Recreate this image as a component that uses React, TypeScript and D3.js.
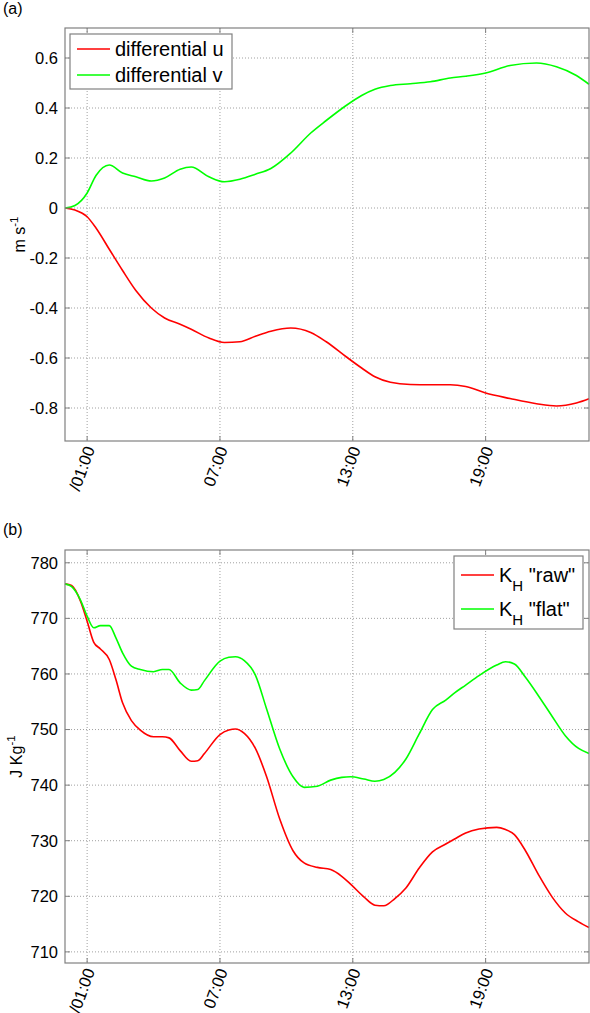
import React, { useEffect, useRef } from 'react';
import * as d3 from 'd3';

// shared time axis (hours since 00:00)
const hourSpan = [0, 23.67];
const hourTicks = [1, 7, 13, 19];
const hourLabels = ['/01:00', '07:00', '13:00', '19:00'];

// panel (a): differential velocities, m s^-1
const hoursA = [0, 0.45, 1, 1.4, 2, 2.6, 3.2, 3.9, 4.5, 5.2, 5.7, 6.5, 7.2, 7.9, 8.6, 9.3, 10.2, 11.1, 11.8, 12.7, 13.4, 14, 14.7, 15.6, 16.5, 17.4, 18.1, 19, 20.1, 21.3, 22.2, 23.1, 23.67];
const diffU = [0, -0.008, -0.035, -0.08, -0.165, -0.25, -0.33, -0.4, -0.44, -0.465, -0.485, -0.52, -0.538, -0.535, -0.513, -0.493, -0.48, -0.498, -0.535, -0.595, -0.64, -0.675, -0.697, -0.706, -0.707, -0.707, -0.714, -0.74, -0.762, -0.783, -0.792, -0.78, -0.763];
const diffV = [0, 0.01, 0.06, 0.13, 0.172, 0.14, 0.125, 0.108, 0.12, 0.155, 0.164, 0.125, 0.105, 0.115, 0.135, 0.158, 0.22, 0.3, 0.35, 0.41, 0.45, 0.475, 0.49, 0.497, 0.505, 0.52, 0.527, 0.54, 0.57, 0.58, 0.565, 0.53, 0.495];
const ticksA = [-0.8, -0.6, -0.4, -0.2, 0, 0.2, 0.4, 0.6];
const ticksALabels = ['-0.8', '-0.6', '-0.4', '-0.2', '0', '0.2', '0.4', '0.6'];
const domainA = [-0.932, 0.72];

// panel (b): K_H, J Kg^-1
const hoursB = [0, 0.3, 0.7, 1, 1.3, 1.6, 2, 2.3, 2.6, 3, 3.4, 4, 4.4, 4.7, 5.2, 5.7, 6, 6.3, 7, 7.4, 7.7, 8.1, 8.6, 9.1, 9.7, 10.3, 10.8, 11.4, 12, 12.5, 12.9, 13.5, 14, 14.4, 14.9, 15.4, 16, 16.6, 17.2, 17.6, 18.1, 18.7, 19.5, 19.9, 20.3, 20.8, 21.4, 22, 22.6, 23.2, 23.67];
const khRaw = [776.2, 775.9, 773.1, 769.5, 765.7, 764.5, 762.6, 759.0, 754.8, 751.6, 749.9, 748.7, 748.7, 748.5, 746.2, 744.3, 744.4, 745.7, 749.1, 749.9, 750.1, 749.3, 746.6, 741.6, 733.9, 728.2, 726.0, 725.2, 724.8, 723.6, 722.2, 719.9, 718.4, 718.3, 719.6, 721.5, 725.1, 728.0, 729.4, 730.3, 731.4, 732.1, 732.4, 732.0, 731.1, 728.2, 723.8, 719.9, 717.0, 715.4, 714.4];
const khFlat = [776.2, 775.7, 773.3, 770.4, 768.3, 768.7, 768.7, 766.5, 763.8, 761.4, 760.8, 760.4, 760.8, 760.8, 758.4, 757.1, 757.2, 758.8, 762.3, 763.0, 763.1, 762.4, 759.8, 753.8, 746.5, 741.5, 739.6, 739.8, 740.9, 741.4, 741.5, 741.1, 740.7, 741.0, 742.3, 744.7, 749.2, 753.6, 755.3, 756.6, 758.0, 759.7, 761.6, 762.2, 761.8, 759.4, 756.0, 752.4, 748.9, 746.6, 745.7];
const ticksB = [710, 720, 730, 740, 750, 760, 770, 780];
const domainB = [708.0, 782.3];

const FONT = "'Liberation Sans', Arial, sans-serif";
const AXIS = '#808080';
const RED = '#ff0000';
const GREEN = '#00ff00';

type Series = { values: number[]; color: string };
type PanelOpts = {
  top: number;
  bottom: number;
  hours: number[];
  series: Series[];
  domain: number[];
  ticks: number[];
  tickLabels: string[];
  tag: string;
  tagY: number;
  unit: string;
  unitX: number;
  legend: { x: number; y: number; w: number; h: number; labels: string[]; sub: boolean };
};

const drawPanel = (root: d3.Selection<SVGSVGElement, unknown, null, undefined>, o: PanelOpts) => {
  const left = 65;
  const right = 589;
  const x = d3.scaleLinear().domain(hourSpan).range([left, right]);
  const y = d3.scaleLinear().domain(o.domain).range([o.bottom, o.top]);
  const g = root.append('g');

  // grid
  g.selectAll('.gx').data(hourTicks).enter().append('line')
    .attr('x1', d => x(d)).attr('x2', d => x(d))
    .attr('y1', o.top).attr('y2', o.bottom)
    .attr('stroke', '#a0a0a0').attr('stroke-dasharray', '1,2');
  g.selectAll('.gy').data(o.ticks).enter().append('line')
    .attr('x1', left).attr('x2', right)
    .attr('y1', d => y(d)).attr('y2', d => y(d))
    .attr('stroke', '#a0a0a0').attr('stroke-dasharray', '1,2');

  // curves
  const line = d3.line<number>()
    .x((_, i) => x(o.hours[i]))
    .y(d => y(d))
    .curve(d3.curveMonotoneX);
  o.series.forEach(s => {
    g.append('path').datum(s.values)
      .attr('fill', 'none').attr('stroke', s.color).attr('stroke-width', 1.6)
      .attr('d', line);
  });

  // box + inner ticks on all sides
  g.append('rect')
    .attr('x', left).attr('y', o.top)
    .attr('width', right - left).attr('height', o.bottom - o.top)
    .attr('fill', 'none').attr('stroke', AXIS).attr('stroke-width', 1.2);
  hourTicks.forEach(t => {
    g.append('line').attr('x1', x(t)).attr('x2', x(t)).attr('y1', o.bottom).attr('y2', o.bottom - 5).attr('stroke', AXIS);
    g.append('line').attr('x1', x(t)).attr('x2', x(t)).attr('y1', o.top).attr('y2', o.top + 5).attr('stroke', AXIS);
  });
  o.ticks.forEach(t => {
    g.append('line').attr('x1', left).attr('x2', left + 5).attr('y1', y(t)).attr('y2', y(t)).attr('stroke', AXIS);
    g.append('line').attr('x1', right).attr('x2', right - 5).attr('y1', y(t)).attr('y2', y(t)).attr('stroke', AXIS);
  });

  // tick labels
  g.selectAll('.ty').data(o.ticks).enter().append('text')
    .attr('x', left - 7).attr('y', d => y(d)).attr('dy', '0.36em')
    .attr('text-anchor', 'end').attr('font-size', 16.5).attr('font-family', FONT)
    .text((_, i) => o.tickLabels[i]);
  g.selectAll('.tx').data(hourTicks).enter().append('text')
    .attr('transform', d => `translate(${x(d) + 8},${o.bottom + 8}) rotate(-70)`)
    .attr('text-anchor', 'end').attr('font-size', 16.5).attr('font-family', FONT)
    .text((_, i) => hourLabels[i]);

  // panel tag and unit label
  g.append('text').attr('x', 3).attr('y', o.tagY)
    .attr('font-size', 16).attr('font-family', FONT).text(o.tag);
  const unit = g.append('text')
    .attr('transform', `translate(${o.unitX},${(o.top + o.bottom) / 2}) rotate(-90)`)
    .attr('text-anchor', 'middle').attr('font-size', 16).attr('font-family', FONT);
  unit.append('tspan').text(o.unit);
  unit.append('tspan').attr('dy', -7).attr('font-size', 11.5).text('-1');

  // legend
  const L = o.legend;
  const lg = g.append('g');
  lg.append('rect').attr('x', L.x).attr('y', L.y).attr('width', L.w).attr('height', L.h)
    .attr('fill', '#fff').attr('stroke', AXIS).attr('stroke-width', 1.2);
  const rowH = L.sub ? 34 : 26;
  const row0 = L.sub ? 19 : 15;
  L.labels.forEach((lab, i) => {
    const ly = L.y + row0 + i * rowH;
    lg.append('line').attr('x1', L.x + 7).attr('x2', L.x + 40).attr('y1', ly).attr('y2', ly)
      .attr('stroke', o.series[i].color).attr('stroke-width', 1.6);
    const t = lg.append('text').attr('x', L.x + 45).attr('y', ly + 7)
      .attr('font-size', 20).attr('font-family', FONT);
    if (L.sub) {
      t.append('tspan').text('K');
      t.append('tspan').attr('dy', 9).attr('font-size', 15).text('H');
      t.append('tspan').attr('dy', -9).text(` ${lab}`);
    } else {
      t.text(lab);
    }
  });
};

const App: React.FC = () => {
  const svgRef = useRef<SVGSVGElement>(null);

  useEffect(() => {
    if (!svgRef.current) return;
    const svg = d3.select(svgRef.current);
    svg.selectAll('*').remove();

    drawPanel(svg, {
      top: 28, bottom: 441, hours: hoursA,
      series: [{ values: diffU, color: RED }, { values: diffV, color: GREEN }],
      domain: domainA, ticks: ticksA, tickLabels: ticksALabels,
      tag: '(a)', tagY: 14, unit: 'm s', unitX: 25,
      legend: { x: 70, y: 34, w: 162, h: 55, labels: ['differential u', 'differential v'], sub: false },
    });

    drawPanel(svg, {
      top: 550, bottom: 963, hours: hoursB,
      series: [{ values: khRaw, color: RED }, { values: khFlat, color: GREEN }],
      domain: domainB, ticks: ticksB, tickLabels: ticksB.map(String),
      tag: '(b)', tagY: 535, unit: 'J Kg', unitX: 22,
      legend: { x: 454, y: 556, w: 129, h: 73, labels: ['"raw"', '"flat"'], sub: true },
    });
  }, []);

  return (
    <svg
      ref={svgRef}
      width={590}
      height={1013}
      style={{ position: 'absolute', left: 0, top: 0, background: '#fff' }}
    />
  );
};

export default App;
